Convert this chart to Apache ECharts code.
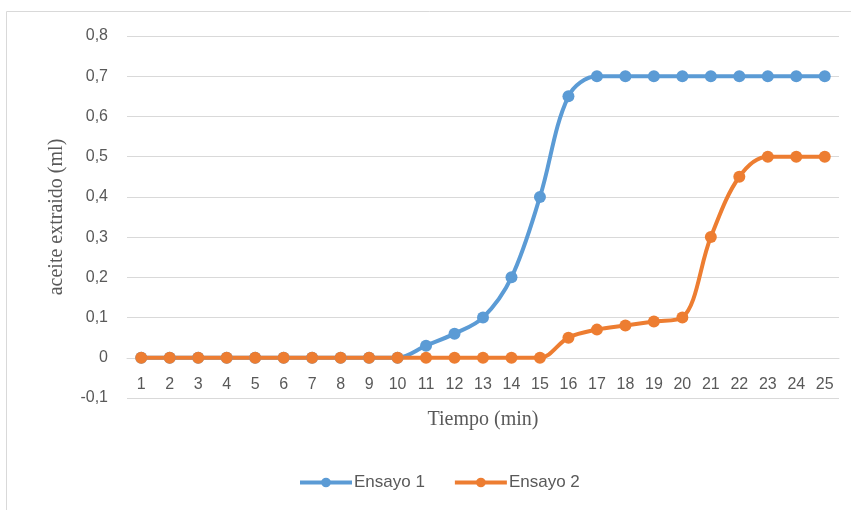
<!DOCTYPE html>
<html>
<head>
<meta charset="utf-8">
<script src="https://cdn.jsdelivr.net/npm/echarts@6/dist/echarts.min.js"></script>
<style>
  html, body { margin: 0; padding: 0; background: #fff; }
  #chart { width: 851px; height: 510px; }
</style>
</head>
<body>
<div id="chart"></div>
<script>
// Minutes on the horizontal axis
const minutes = ['1','2','3','4','5','6','7','8','9','10','11','12','13','14','15','16','17','18','19','20','21','22','23','24','25'];
// Extracted oil (ml) per run
const ensayo1 = [0,0,0,0,0,0,0,0,0,0,0.03,0.06,0.1,0.2,0.4,0.65,0.7,0.7,0.7,0.7,0.7,0.7,0.7,0.7,0.7];
const ensayo2 = [0,0,0,0,0,0,0,0,0,0,0,0,0,0,0,0.05,0.07,0.08,0.09,0.1,0.3,0.45,0.5,0.5,0.5];
const seriesNames = ['Ensayo 1', 'Ensayo 2'];
const colors = ['#5B9BD5', '#ED7D31'];

const labelFont = 'Liberation Sans, Arial, sans-serif';
const titleFont = 'Liberation Serif, Times New Roman, serif';

const gridTop = 36, gridBottom = 112;
const plotHeight = 510 - gridTop - gridBottom;
const yMin = -0.1, yMax = 0.8;
// distance from the plot's bottom edge up to the zero line
const zeroOffset = plotHeight * (0 - yMin) / (yMax - yMin);

const chart = echarts.init(document.getElementById('chart'), null, { renderer: 'canvas' });

function lineSeries(name, data, color) {
  return {
    name: name,
    type: 'line',
    data: data,
    smooth: 0.35,
    symbol: 'circle',
    symbolSize: 12,
    lineStyle: { width: 4, color: color },
    itemStyle: { color: color },
    z: 3
  };
}

chart.setOption({
  animation: false,
  color: colors,
  graphic: [{
    type: 'rect',
    shape: { x: 6.5, y: 11.5, width: 900, height: 600 },
    style: { fill: 'none', stroke: '#D9D9D9', lineWidth: 1 },
    silent: true
  }],
  grid: { left: 127, right: 12, top: gridTop, bottom: gridBottom, containLabel: false },
  legend: {
    data: seriesNames,
    bottom: 14,
    left: 293,
    itemWidth: 52,
    itemHeight: 12,
    itemGap: 28,
    lineStyle: { width: 4 },
    textStyle: { color: '#595959', fontSize: 17, fontFamily: labelFont, padding: [0, 0, 0, -3] }
  },
  xAxis: {
    type: 'category',
    data: minutes,
    boundaryGap: true,
    position: 'bottom',
    offset: -zeroOffset,
    name: 'Tiempo (min)',
    nameLocation: 'middle',
    nameGap: 52,
    nameTextStyle: { color: '#595959', fontSize: 20, fontFamily: titleFont },
    axisLine: { onZero: false, lineStyle: { color: '#D9D9D9', width: 1 } },
    axisTick: { show: false },
    axisLabel: { color: '#595959', fontSize: 16, fontFamily: labelFont, margin: 19, interval: 0 }
  },
  yAxis: {
    type: 'value',
    min: yMin,
    max: yMax,
    interval: 0.1,
    name: 'aceite extraido (ml)',
    nameLocation: 'middle',
    nameGap: 60,
    nameTextStyle: { color: '#595959', fontSize: 20, fontFamily: titleFont },
    axisLine: { show: false },
    axisTick: { show: false },
    splitLine: { lineStyle: { color: '#D9D9D9', width: 1 } },
    axisLabel: {
      color: '#595959', fontSize: 16, fontFamily: labelFont, margin: 19,
      formatter: function (v) {
        const r = Math.round(v * 10) / 10;
        return r === 0 ? '0' : String(r).replace('.', ',');
      }
    }
  },
  series: [
    lineSeries(seriesNames[0], ensayo1, colors[0]),
    lineSeries(seriesNames[1], ensayo2, colors[1])
  ]
});
</script>
</body>
</html>
